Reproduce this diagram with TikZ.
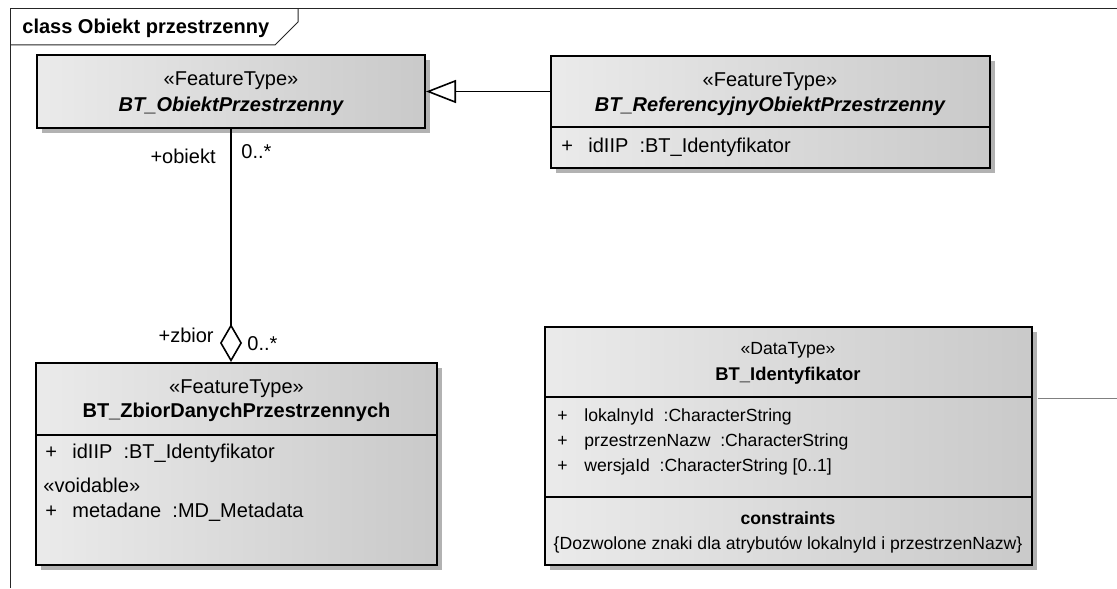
\documentclass[tikz,border=0pt]{standalone}
\usepackage{fontspec}
\setmainfont{Liberation Sans}
\usetikzlibrary{arrows.meta,shadows}
\newcommand{\umlfont}{\fontsize{10}{12}\selectfont}
\newcommand{\smallumlfont}{\fontsize{8.8}{10}\selectfont}
\newcommand{\attrrow}[1]{\makebox[13.5pt][l]{+}#1}

\begin{document}
\begin{tikzpicture}[x=0.5pt,y=-0.5pt,
    frame line/.style={draw=black!85, line width=0.5pt},
    class box/.style={draw, line width=1pt, rectangle, inner sep=0pt, left color=gray!16, right color=gray!42,
        drop shadow={shadow xshift=2.5pt, shadow yshift=-2.5pt, fill=gray!60, opacity=1}},
    sep line/.style={line width=1pt},
    txt/.style={font=\umlfont, inner sep=0pt, text height=7.2pt, text depth=2.1pt},
    small txt/.style={font=\smallumlfont, inner sep=0pt, text height=6.3pt, text depth=1.8pt},
    abstract name/.style={txt, font=\umlfont\bfseries\itshape},
    class name/.style={txt, font=\umlfont\bfseries},
    attr/.style={txt, anchor=west},
    small attr/.style={small txt, anchor=west},
    generalization/.style={-{Triangle[length=15pt, width=11.5pt, fill=white]}, line width=0.8pt},
    aggregation/.style={-{Diamond[length=19pt, width=11pt, fill=white]}, line width=0.8pt}]

    \useasboundingbox (0,0) rectangle (1117,588);

    % frame and its tab
    \draw[frame line] (10,588) -- (10,9) -- (1117,9);
    \draw[frame line] (10,45) -- (275,45) -- (298,22) -- (298,9);
    \node[txt, font=\umlfont\bfseries, anchor=west] (title) at (22,28) {class Obiekt przestrzenny};

    % classes
    \node[class box, minimum width=194pt, minimum height=36.5pt] (obiekt) at (231,91.5) {};
    \node[txt] (obiekt-st) at (231,80) {«FeatureType»};
    \node[abstract name] (obiekt-nm) at (231,106) {BT\_ObiektPrzestrzenny};

    \node[class box, minimum width=219.5pt, minimum height=56pt] (refobj) at (770.5,112) {};
    \draw[sep line] ([yshift=-7.5pt]refobj.west) -- ([yshift=-7.5pt]refobj.east);
    \node[txt] (refobj-st) at (770,81) {«FeatureType»};
    \node[abstract name] (refobj-nm) at (770,106) {BT\_ReferencyjnyObiektPrzestrzenny};
    \node[attr] (refobj-a1) at (561,147) {\attrrow{idIIP\ \ :BT\_Identyfikator}};

    \node[class box, minimum width=200.5pt, minimum height=101pt] (zbior) at (236.5,464) {};
    \draw[sep line] ([yshift=14.5pt]zbior.west) -- ([yshift=14.5pt]zbior.east);
    \node[txt] (zbior-st) at (236.5,388) {«FeatureType»};
    \node[class name] (zbior-nm) at (236.5,412) {BT\_ZbiorDanychPrzestrzennych};
    \node[attr] (zbior-a1) at (45,453) {\attrrow{idIIP\ \ :BT\_Identyfikator}};
    \node[attr] (zbior-void) at (43,487) {«voidable»};
    \node[attr] (zbior-a2) at (45,512) {\attrrow{metadane\ \ :MD\_Metadata}};

    \node[class box, minimum width=243.5pt, minimum height=119pt] (ident) at (788.5,446) {};
    \draw[sep line] ([yshift=24.5pt]ident.west) -- ([yshift=24.5pt]ident.east);
    \draw[sep line] ([yshift=-25.5pt]ident.west) -- ([yshift=-25.5pt]ident.east);
    \node[small txt] (ident-st) at (788,350) {«DataType»};
    \node[small txt, font=\fontsize{9.2}{11}\selectfont\bfseries] (ident-nm) at (788,376) {BT\_Identyfikator};
    \node[small attr] (ident-a1) at (557,417) {\attrrow{lokalnyId\ \ :CharacterString}};
    \node[small attr] (ident-a2) at (557,442) {\attrrow{przestrzenNazw\ \ :CharacterString}};
    \node[small attr] (ident-a3) at (557,467) {\attrrow{wersjaId\ \ :CharacterString [0..1]}};
    \node[small txt, font=\smallumlfont\bfseries] (ident-cs) at (788,520) {constraints};
    \node[small txt] (ident-c1) at (788,545) {\{Dozwolone znaki dla atrybutów lokalnyId i przestrzenNazw\}};

    % roles and multiplicities
    \node[txt, anchor=east] (obiekt-role) at (216,158) {+obiekt};
    \node[txt, anchor=west] (obiekt-mult) at (241,153) {0..*};
    \node[txt, anchor=east] (zbior-role) at (214,337) {+zbior};
    \node[txt, anchor=west] (zbior-mult) at (247,345) {0..*};

    % connectors
    \draw[generalization] (refobj.west |- obiekt.east) -- (obiekt.east);
    \draw[aggregation] (obiekt.south) -- (obiekt.south |- zbior.north);

    \coordinate (cut-a) at (1038,398);
    \coordinate (cut-b) at (1117,398);
    \draw[frame line, draw=gray] (cut-a) -- (cut-b);
\end{tikzpicture}
\end{document}
